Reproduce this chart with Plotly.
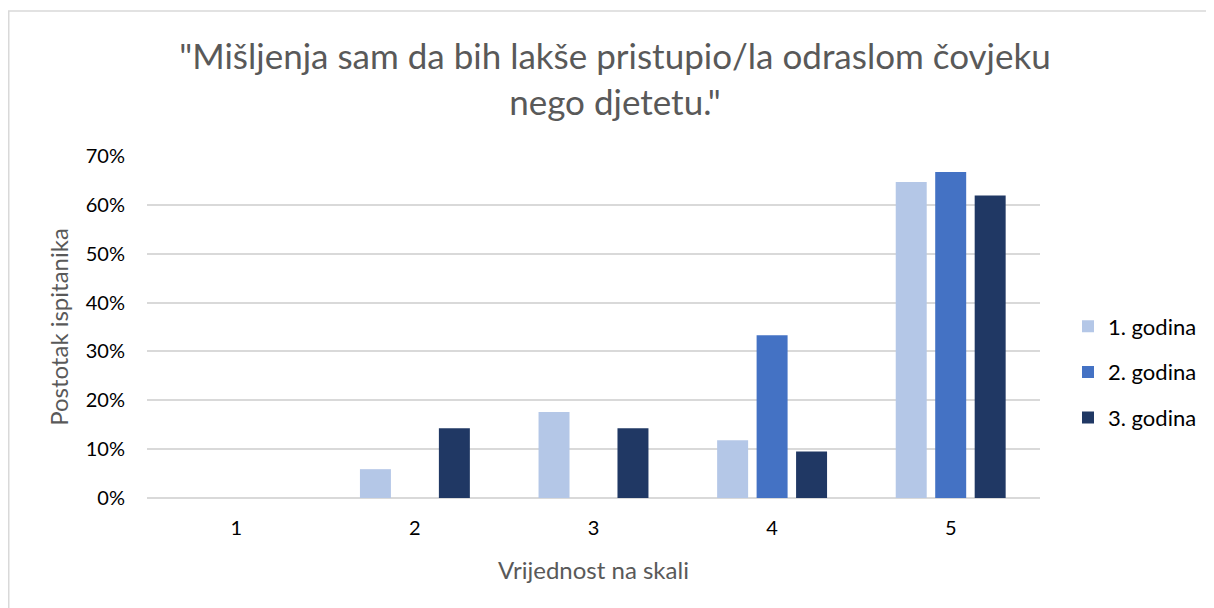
import plotly.graph_objects as go

categories = ["1", "2", "3", "4", "5"]
series_names = ["1. godina", "2. godina", "3. godina"]
god1 = [0.0, 0.059, 0.176, 0.118, 0.647]
god2 = [0.0, 0.0, 0.0, 0.333, 0.667]
god3 = [0.0, 0.143, 0.143, 0.095, 0.619]
colors = ["#B4C7E7", "#4472C4", "#203864"]
tick_vals = [0, 0.1, 0.2, 0.3, 0.4, 0.5, 0.6, 0.7]
tick_text = ["0%", "10%", "20%", "30%", "40%", "50%", "60%", "70%"]

FONT = "Lato"
W, H = 1214, 608
L, T, R, B = 139, 148, 182, 118   # page has an 8px body margin
PW, PH = W - L - R, H - T - B

fig = go.Figure()
for i, (name, vals) in enumerate(zip(series_names, [god1, god2, god3])):
    fig.add_trace(go.Bar(x=categories, y=vals, name=name, marker_color=colors[i],
                         marker_line_width=0, legendgroup=f"g{i}"))

fig.update_layout(
    width=W, height=H,
    paper_bgcolor="white", plot_bgcolor="white",
    margin=dict(l=L, r=R, t=T, b=B, autoexpand=False),
    barmode="group", bargap=0.337, bargroupgap=0.215,
    font=dict(family=FONT, color="#000000"),
    title=dict(text='"Mišljenja sam da bih lakše pristupio/la odraslom čovjeku<br>nego djetetu."',
               xref="container", x=607 / W, xanchor="center",
               yref="container", y=1 - 61 / H, yanchor="middle",
               font=dict(family=FONT, size=35, color="#595959")),
    xaxis=dict(type="category", showgrid=False, zeroline=False, showline=False,
               tickfont=dict(size=20, color="#000000"), ticks="", ticklabelstandoff=16,
               automargin=False,
               title=dict(text="Vrijednost na skali", font=dict(size=24, color="#595959"), standoff=24)),
    yaxis=dict(range=[0, 0.7], tickvals=tick_vals, ticktext=tick_text,
               showgrid=True, gridcolor="#D9D9D9", gridwidth=1.5, zeroline=True,
               zerolinecolor="#D9D9D9", zerolinewidth=1.5, showline=False, ticks="",
               ticklabelstandoff=21, automargin=False,
               tickfont=dict(size=20, color="#000000"),
               title=dict(text="Postotak ispitanika", font=dict(size=24, color="#595959"), standoff=10)),
    legend=dict(xref="container", yref="container", x=1060 / W, y=1 - 364 / H,
                xanchor="left", yanchor="middle",
                font=dict(size=22, color="#000000"), tracegroupgap=14,
                itemwidth=30),
    showlegend=True,
)
fig.add_shape(type="rect", xref="paper", yref="paper",
              x0=(0.75 - L) / PW, x1=(W + 20 - L) / PW,
              y0=-(B + 20) / PH, y1=(PH + T - 3) / PH,
              line=dict(color="#D9D9D9", width=1.5), fillcolor="rgba(0,0,0,0)", layer="below")
fig.write_html("out.html")
